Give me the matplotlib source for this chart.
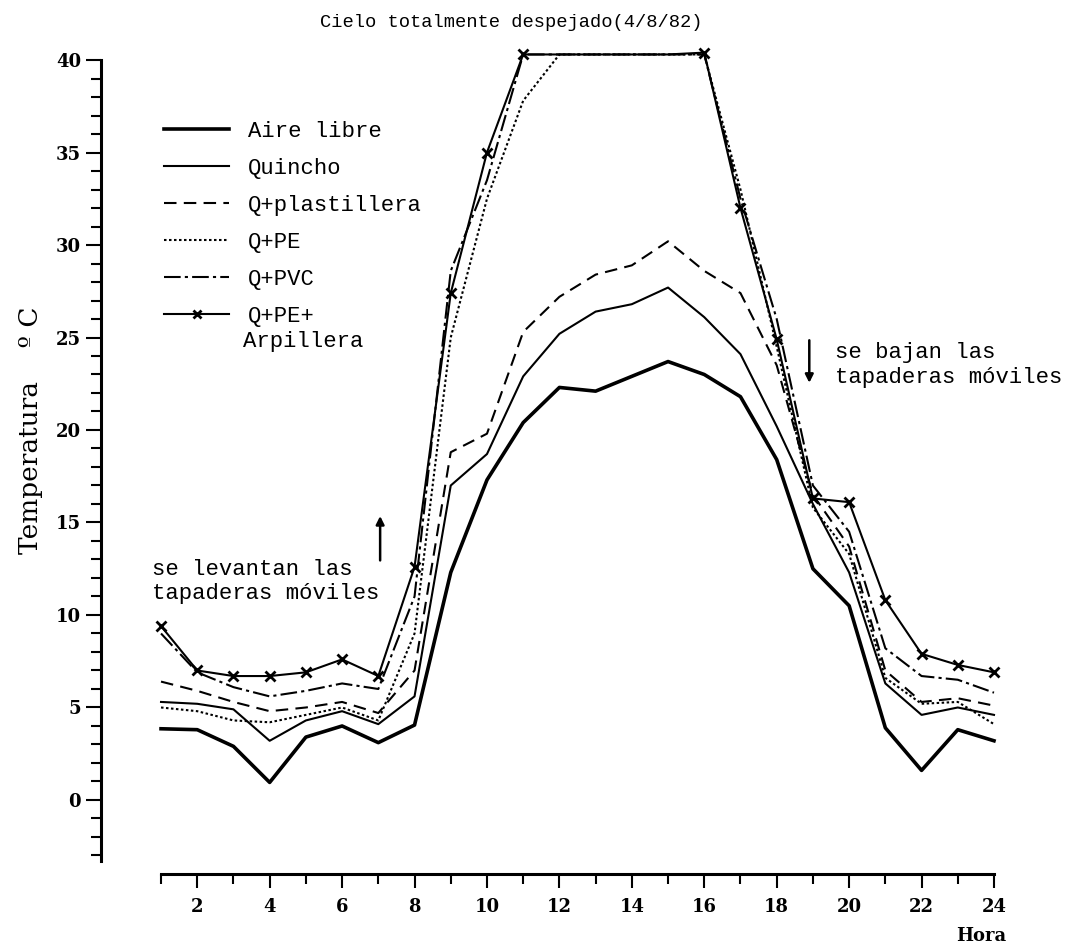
import numpy as np
import matplotlib.pyplot as plt
from matplotlib.lines import Line2D

hours = list(range(1, 25))

aire = [3.85, 3.8, 2.9, 0.95, 3.4, 4.0, 3.1, 4.05, 12.3, 17.3, 20.4, 22.3,
        22.1, 22.9, 23.7, 23.0, 21.8, 18.4, 12.5, 10.5, 3.9, 1.6, 3.8, 3.2]
quincho = [5.3, 5.2, 4.9, 3.2, 4.3, 4.8, 4.1, 5.6, 17.0, 18.7, 22.9, 25.2,
           26.4, 26.8, 27.7, 26.1, 24.1, 20.2, 16.0, 12.3, 6.3, 4.6, 5.0, 4.6]
plast = [6.4, 5.9, 5.3, 4.8, 5.0, 5.3, 4.7, 7.0, 18.8, 19.8, 25.3, 27.2,
         28.4, 28.9, 30.2, 28.6, 27.4, 23.5, 16.5, 13.7, 7.0, 5.3, 5.5, 5.1]
pe = [5.0, 4.8, 4.3, 4.2, 4.6, 5.0, 4.3, 9.0, 25.0, 32.5, 37.8, 40.3,
      40.3, 40.3, 40.3, 40.3, 33.0, 24.5, 15.8, 13.3, 6.6, 5.2, 5.3, 4.1]
pvc = [9.0, 6.9, 6.1, 5.6, 5.9, 6.3, 6.0, 11.0, 28.6, 33.5, 40.3, 40.3,
       40.3, 40.3, 40.3, 40.3, 32.5, 26.0, 17.0, 14.5, 8.2, 6.7, 6.5, 5.8]
arp = [9.4, 7.0, 6.7, 6.7, 6.9, 7.6, 6.7, 12.6, 27.4, 35.0, 40.3, 40.3,
       40.3, 40.3, 40.3, 40.4, 32.0, 24.9, 16.3, 16.1, 10.8, 7.9, 7.3, 6.9]
# off-scale hours: line drawn along the top, no marker
sin_marca = [12, 13, 14, 15]

labels = ['Aire libre', 'Quincho', 'Q+plastillera', 'Q+PE', 'Q+PVC', 'Q+PE+']

mono = 'Liberation Mono'
serif = 'DejaVu Serif'
k = 'black'

fig = plt.figure(figsize=(10.88, 9.51), dpi=100)
ax = fig.add_axes([0.148, 0.0946, 0.7656, 0.8423])

ax.plot(hours, aire, color=k, lw=2.6, clip_on=False)
ax.plot(hours, quincho, color=k, lw=1.5, clip_on=False)
ax.plot(hours, plast, color=k, lw=1.5, ls=(0, (6, 3.5)), clip_on=False)
ax.plot(hours, pe, color=k, lw=1.5, ls=(0, (1.2, 1.2)), clip_on=False)
ax.plot(hours, pvc, color=k, lw=1.5, ls=(0, (8, 2, 1.5, 2)), clip_on=False)
marks = [i for i, h in enumerate(hours) if h not in sin_marca]
ax.plot(hours, arp, color=k, lw=1.5, marker='x', ms=7, mew=2,
        markevery=marks, clip_on=False)

ax.set_xlim(1, 24)
ax.set_ylim(-3.3, 40)

for s in ['top', 'right']:
    ax.spines[s].set_visible(False)
ax.spines['left'].set_position(('outward', 43))
ax.spines['bottom'].set_position(('outward', 9.5))
ax.spines['left'].set_bounds(-3.3, 40)
ax.spines['bottom'].set_bounds(1, 24)
ax.spines['left'].set_linewidth(2.2)
ax.spines['bottom'].set_linewidth(2.2)

ax.set_yticks(range(0, 41, 5))
ax.set_yticks(range(-3, 40), minor=True)
ax.set_xticks(range(2, 25, 2))
ax.set_xticks(range(1, 24, 2), minor=True)
ax.tick_params(axis='y', which='major', direction='out', length=11, width=1.5)
ax.tick_params(axis='y', which='minor', direction='out', length=7, width=1.5)
ax.tick_params(axis='x', which='major', direction='out', length=10, width=1.5,
               pad=7)
ax.tick_params(axis='x', which='minor', direction='out', length=7, width=1.5)
for t in ax.get_xticklabels() + ax.get_yticklabels():
    t.set_fontfamily(serif)
    t.set_fontweight('bold')
    t.set_fontsize(13)

fig.text(0.47, 0.976, 'Cielo totalmente despejado(4/8/82)', family=mono,
         fontsize=13.5, ha='center', va='center')
fig.text(0.028, 0.548, 'Temperatura    º C', family=serif, fontsize=19,
         rotation=90, ha='center', va='center')
fig.text(0.902, 0.016, 'Hora', family=serif, fontweight='bold', fontsize=13,
         ha='center', va='center')

handles = [
    Line2D([], [], color=k, lw=2.6),
    Line2D([], [], color=k, lw=1.5),
    Line2D([], [], color=k, lw=1.5, ls=(0, (6, 3.5))),
    Line2D([], [], color=k, lw=1.5, ls=(0, (1.2, 1.2))),
    Line2D([], [], color=k, lw=1.5, ls=(0, (8, 2, 1.5, 2))),
    Line2D([], [], color=k, lw=1.5, marker='x', ms=6, mew=2, markevery=[0, -1]),
]
ax.legend(handles, labels, loc='upper left', bbox_to_anchor=(-0.02, 0.949),
          frameon=False, handlelength=2.9, handletextpad=0.85,
          labelspacing=0.72, prop={'family': mono, 'size': 16})
fig.text(243 / 1088, 1 - 342 / 951, 'Arpillera', family=mono, fontsize=16,
         ha='left', va='center')

ax.text(0.75, 11.8, 'se levantan las\ntapaderas móviles', family=mono,
        fontsize=16, ha='left', va='center', linespacing=1.15)
ax.annotate('', xy=(7.05, 15.5), xytext=(7.05, 12.8),
            arrowprops=dict(arrowstyle='-|>', color=k, lw=1.8, mutation_scale=12))
ax.text(19.6, 23.5, 'se bajan las\ntapaderas móviles', family=mono,
        fontsize=16, ha='left', va='center', linespacing=1.25)
ax.annotate('', xy=(18.9, 22.4), xytext=(18.9, 25.0),
            arrowprops=dict(arrowstyle='-|>', color=k, lw=1.8, mutation_scale=12))

fig.savefig('out.png', dpi=100)
